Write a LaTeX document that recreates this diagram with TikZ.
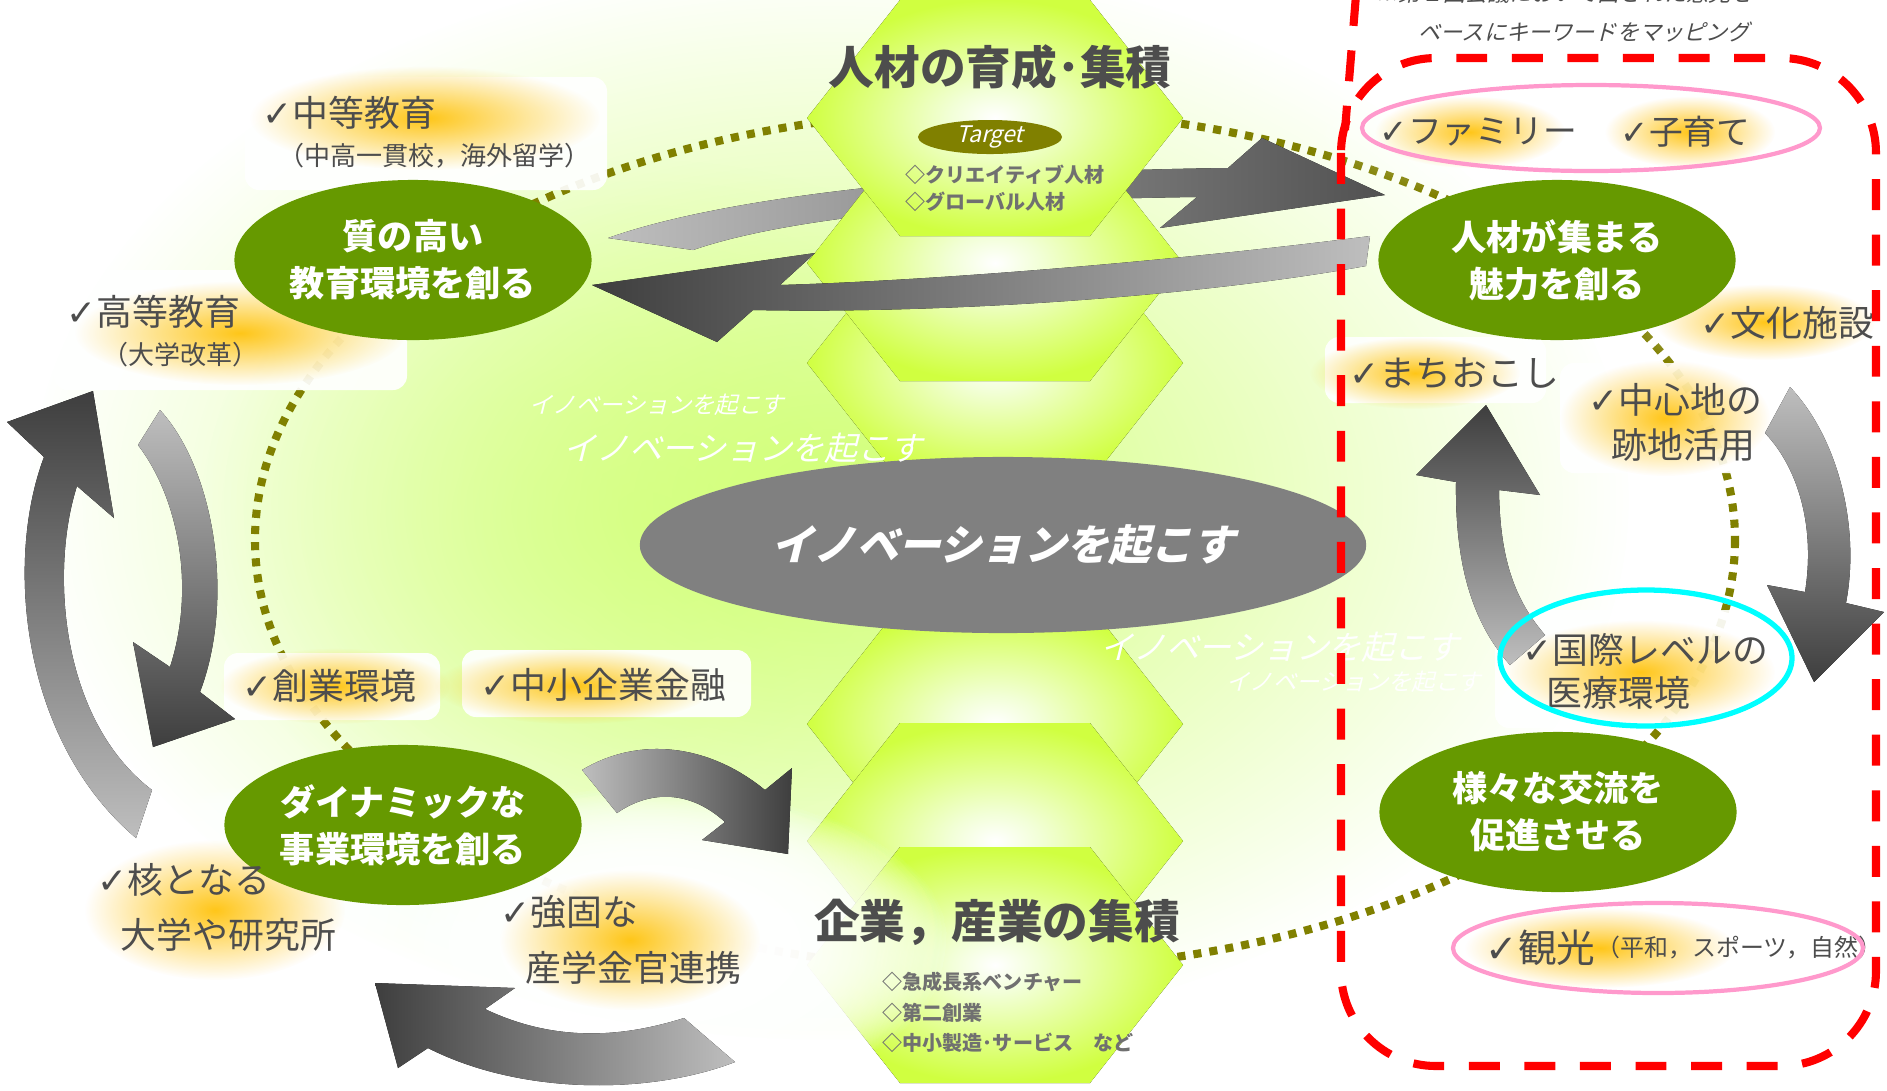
\documentclass[tikz,border=0pt]{standalone}
\usepackage{fontspec}
\setmainfont{Noto Sans CJK JP}
\newfontfamily\jpslant{Noto Sans CJK JP}[FakeSlant=0.25]
\newfontfamily\symfont{DejaVu Sans}
\usetikzlibrary{shapes.geometric, fadings, positioning}

\definecolor{olivegreen}{RGB}{102,153,0}
\definecolor{dotolive}{RGB}{128,128,0}
\definecolor{txtgray}{RGB}{77,77,77}
\definecolor{itemgray}{RGB}{112,112,112}
\definecolor{hexlime}{RGB}{208,255,64}
\definecolor{hexlight}{RGB}{242,255,215}
\definecolor{glowor}{RGB}{255,192,0}
\definecolor{bglime}{RGB}{210,255,120}
\definecolor{arrdark}{RGB}{62,62,62}
\definecolor{arrlight}{RGB}{190,190,190}
\definecolor{innovgray}{RGB}{128,128,128}
\definecolor{pinkline}{RGB}{255,153,204}
\definecolor{ringcyan}{RGB}{0,255,255}
\pgfdeclareradialshading{hexglow}{\pgfpoint{0bp}{0bp}}{color(0bp)=(white); color(6bp)=(hexlight); color(25bp)=(hexlime); color(50bp)=(hexlime)}
\tikzfading[name=softglow, inner color=transparent!0, outer color=transparent!100]
\newcommand{\chk}{{\symfont ✓}}

\begin{document}
\begin{tikzpicture}[x=0.01cm, y=-0.01cm,
  hexfill/.style={shading=hexglow},
  greenell/.style={ellipse, fill=olivegreen, text=white, font=\fontsize{10}{13.4}\selectfont\bfseries, minimum width=3.57cm, minimum height=1.6cm, align=center, inner sep=0pt},
  lbl/.style={text=txtgray, font=\fontsize{10.2}{12}\selectfont, inner sep=0pt, anchor=west},
  small/.style={text=txtgray, font=\fontsize{7.4}{9}\selectfont, inner sep=0pt, anchor=west},
  item/.style={text=itemgray, font=\fontsize{5.7}{7}\selectfont\bfseries, inner sep=0pt, anchor=west},
  hextitle/.style={text=txtgray, font=\fontsize{13}{15}\selectfont\bfseries, inner sep=0pt},
  innov/.style={text=white, inner sep=0pt, anchor=west},
  labelbox/.style={fill=white, fill opacity=0.92, rounded corners=4pt},
  glow/.style={fill=glowor, path fading=softglow, opacity=0.9},
  whiteglow/.style={fill=white, path fading=softglow},
  dotline/.style={draw=dotolive, line width=2.3pt, dash pattern=on 2.3pt off 2.3pt},
  reddash/.style={draw=red, line width=2.3pt, dash pattern=on 8.8pt off 7pt},
  keyring/.style={line width=1.2pt}
]
\useasboundingbox (0,0) rectangle (1887,1090);
\fill[white] (0,0) rectangle (1887,1090);

% background glow
\fill[bglime, path fading=softglow] (830,500) ellipse (800 and 540);
\fill[bglime, path fading=softglow, opacity=0.6] (650,520) ellipse (450 and 360);

% dotted ring
\draw[dotline] (995,540) ellipse (740 and 430);

% upper arrow, behind the column
\fill[left color=arrlight, right color=arrdark!90] (608,238) .. controls (700,205) and (900,172) .. (1228,168) -- (1262,138) -- (1385,195) -- (1160,228) -- (1197,197) .. controls (950,200) and (780,220) .. (693,250) -- cycle;

% hexagon column
\foreach \cy in {363,724,263,841,118,965}
  \fill[hexfill] (807,\cy) -- ++(93,-118) -- ++(190,0) -- ++(93,118) -- ++(-93,118) -- ++(-190,0) -- cycle;

% lower arrow, in front of the column
\fill[left color=arrdark, right color=arrlight] (1370,236) .. controls (1200,258) and (950,280) .. (780,285) -- (815,253) -- (592,285) -- (717,342) -- (753,310) .. controls (950,314) and (1200,296) .. (1366,266) -- cycle;

% centre
\node[ellipse, fill=innovgray, minimum width=7.26cm, minimum height=1.76cm, text=white, font=\jpslant\fontsize{12}{14}\selectfont\bfseries] (innov) at (1003,545) {イノベーションを起こす};

% boxes and glows
\fill[labelbox] (245,77) rectangle (607,190);
\fill[glow] (425,118) ellipse (175 and 52);
\fill[labelbox] (54,270) rectangle (407,390);
\fill[glow] (240,333) ellipse (165 and 52);
\fill[labelbox] (224,653) rectangle (440,720);
\fill[glow] (335,686) ellipse (115 and 38);
\fill[labelbox] (462,650) rectangle (751,717);
\fill[glow] (575,686) ellipse (140 and 38);
\foreach \k in {1,...,5} {
  \fill[whiteglow] (215,907) ellipse (230 and 130);
  \fill[whiteglow] (650,945) ellipse (300 and 160);
}
\fill[glow] (215,910) ellipse (130 and 70);
\fill[glow] (630,940) ellipse (130 and 70);
\fill[labelbox] (1325,337) rectangle (1546,403);
\fill[glow] (1415,373) ellipse (105 and 36);
\fill[whiteglow] (1780,322) ellipse (150 and 60);
\fill[glow] (1765,322) ellipse (110 and 38);
\fill[labelbox] (1560,363) rectangle (1768,473);
\fill[glow] (1665,418) ellipse (105 and 58);
\fill[labelbox] (1495,610) rectangle (1772,728);
\fill[glow] (1640,672) ellipse (135 and 52);
\fill[whiteglow] (1591,128) ellipse (290 and 80);
\fill[glow] (1470,132) ellipse (95 and 36);
\fill[glow] (1690,132) ellipse (85 and 36);
\fill[whiteglow] (1658,948) ellipse (260 and 80);
\fill[glow] (1600,948) ellipse (135 and 40);

% white slogans
\node[innov, font=\jpslant\fontsize{6.6}{8}\selectfont] (inv1) at (529,405) {イノベーションを起こす};
\node[innov, font=\jpslant\fontsize{9.3}{11}\selectfont] (inv2) at (563,448) {イノベーションを起こす};
\node[innov, font=\jpslant\fontsize{9.3}{11}\selectfont] (inv3) at (1100,647) {イノベーションを起こす};
\node[innov, font=\jpslant\fontsize{6.6}{8}\selectfont] (inv4) at (1226,682) {イノベーションを起こす};

% green ellipses
\node[greenell] (edu) at (413,260) {質の高い\\教育環境を創る};
\node[greenell] (attr) at (1557,260) {人材が集まる\\魅力を創る};
\node[greenell] (biz) at (403,825) {ダイナミックな\\事業環境を創る};
\node[greenell] (exch) at (1558,812) {様々な交流を\\促進させる};

% cycle arrows
\fill[top color=arrdark, bottom color=arrlight] (44,457) -- (7,422) -- (93,391) -- (114,518) -- (77,486) .. controls (50,570) and (60,720) .. (152,790) -- (136,838) .. controls (20,740) and (5,560) .. (44,457) -- cycle;
\fill[top color=arrlight, bottom color=arrdark] (160,410) .. controls (215,470) and (235,600) .. (200,692) -- (235,719) -- (153,747) -- (133,642) -- (170,667) .. controls (195,590) and (180,500) .. (138,445) -- cycle;
\fill[left color=arrlight, right color=arrdark] (582,770) .. controls (640,735) and (710,745) .. (765,790) -- (792,768) -- (788,854) -- (702,840) -- (725,822) .. controls (690,790) and (650,790) .. (617,813) -- cycle;
\fill[left color=arrdark, right color=arrlight] (485,1009) .. controls (560,1045) and (630,1035) .. (684,1018) -- (735,1062) .. controls (650,1095) and (520,1095) .. (428,1048) -- (398,1068) -- (375,983) -- (515,988) -- cycle;
\fill[top color=arrdark, bottom color=arrlight] (1456,482) -- (1416,475) -- (1486,405) -- (1540,495) -- (1499,490) .. controls (1500,560) and (1515,600) .. (1545,635) -- (1510,665) .. controls (1470,620) and (1455,560) .. (1456,482) -- cycle;
\fill[top color=arrlight, bottom color=arrdark] (1790,387) .. controls (1840,440) and (1860,530) .. (1846,603) -- (1884,612) -- (1814,682) -- (1767,585) -- (1805,592) .. controls (1815,530) and (1800,470) .. (1765,433) -- cycle;

% hexagon texts
\node[hextitle] (hrtitle) at (1000,67) {人材の育成･集積};
\node[ellipse, fill=dotolive, minimum width=1.44cm, minimum height=0.34cm, inner sep=0pt, text=white, font=\jpslant\fontsize{6.5}{7}\selectfont] (target) at (990,137) {Target};
\node[item] (creative) at (905,175) {◇クリエイティブ人材};
\node[item] (global) at (905,202) {◇グローバル人材};
\node[hextitle] (bztitle) at (997,922) {企業，産業の集積};
\node[item] (venture) at (882,982) {◇急成長系ベンチャー};
\node[item] (second) at (882,1013) {◇第二創業};
\node[item] (smallmfg) at (882,1043) {◇中小製造･サービス　など};

% keywords
\node[lbl] (mid) at (262,113) {\chk 中等教育};
\node[small] (midsub) at (278,156) {（中高一貫校，海外留学）};
\node[lbl] (high) at (66,312) {\chk 高等教育};
\node[small] (highsub) at (102,355) {（大学改革）};
\node[lbl] (startup) at (242,686) {\chk 創業環境};
\node[lbl] (smefin) at (480,685) {\chk 中小企業金融};
\node[lbl] (core) at (97,880) {\chk 核となる};
\node[lbl] (corelab) at (120,935) {大学や研究所};
\node[lbl] (strong) at (500,912) {\chk 強固な};
\node[lbl] (strongsub) at (525,968) {産学金官連携};
\node[lbl] (town) at (1349,373) {\chk まちおこし};
\node[lbl] (culture) at (1700,323) {\chk 文化施設};
\node[lbl] (centre) at (1588,400) {\chk 中心地の};
\node[lbl] (centresub) at (1611,445) {跡地活用};
\node[lbl] (medic) at (1522,650) {\chk 国際レベルの};
\node[lbl] (medicsub) at (1546,693) {医療環境};
\node[lbl, font=\fontsize{9.6}{11}\selectfont] (family) at (1379,132) {\chk ファミリー};
\node[lbl, font=\fontsize{9.6}{11}\selectfont] (child) at (1620,132) {\chk 子育て};
\node[lbl, font=\fontsize{11}{13}\selectfont] (kanko) at (1485,948) {\chk 観光};
\node[small, font=\fontsize{6.8}{8}\selectfont, right=0pt of kanko] (kankosub) {（平和，スポーツ，自然）};

% mapping note
\node[text=txtgray, font=\jpslant\fontsize{6.3}{7}\selectfont, anchor=west, inner sep=0pt] (note1) at (1376,-7) {※第１回会議において出された意見を};
\node[text=txtgray, font=\jpslant\fontsize{6.3}{7}\selectfont, anchor=west, inner sep=0pt] (note2) at (1418,32) {ベースにキーワードをマッピング};

% mapped area
\draw[reddash] (1356,-5) -- (1345,130);
\draw[reddash, rounded corners=27pt] (1341,58) rectangle (1876,1066);
\draw[keyring, draw=pinkline] (1591,128) ellipse (229 and 43);
\draw[keyring, draw=pinkline] (1658,948) ellipse (205 and 45);
\draw[line width=1.5pt, draw=ringcyan] (1646,658) ellipse (146 and 68);
\end{tikzpicture}
\end{document}
